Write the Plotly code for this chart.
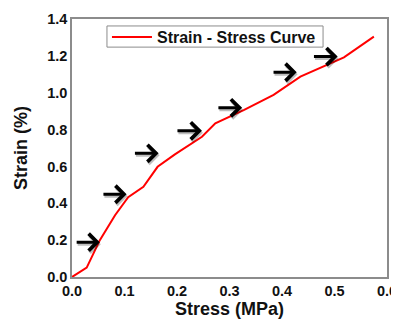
import plotly.graph_objects as go

stress = [0, 0.028, 0.053, 0.082, 0.107, 0.136, 0.163, 0.196, 0.2475, 0.273, 0.327, 0.384, 0.435, 0.518, 0.575]
strain = [0, 0.051, 0.20, 0.335, 0.433, 0.489, 0.598, 0.665, 0.761, 0.834, 0.906, 0.988, 1.087, 1.192, 1.304]

arrow_tail_x = [0.006, 0.057, 0.117, 0.198, 0.276, 0.381, 0.458]
arrow_head_x = [0.053, 0.104, 0.165, 0.2475, 0.324, 0.428, 0.506]
arrow_y = [0.189, 0.449, 0.671, 0.793, 0.918, 1.111, 1.196]

x_ticks = [0.0, 0.1, 0.2, 0.3, 0.4, 0.5, 0.6]
y_ticks = [0.0, 0.2, 0.4, 0.6, 0.8, 1.0, 1.2, 1.4]

FONT = "Liberation Sans, Arial"

fig = go.Figure()
fig.add_trace(go.Scatter(x=stress, y=strain, mode="lines", name="Strain - Stress Curve",
                         line=dict(color="#ff0000", width=2)))

annotations = []
for tx, hx, y in zip(arrow_tail_x, arrow_head_x, arrow_y):
    annotations.append(dict(x=hx, y=y, ax=tx, ay=y, xref="x", yref="y", axref="x", ayref="y",
                            showarrow=True, arrowhead=4, arrowsize=1.1, arrowwidth=3,
                            arrowcolor="rgba(0,0,0,0.25)", text="", xshift=1, yshift=-2))
    annotations.append(dict(x=hx, y=y, ax=tx, ay=y, xref="x", yref="y", axref="x", ayref="y",
                            showarrow=True, arrowhead=4, arrowsize=1.1, arrowwidth=3,
                            arrowcolor="#000000", text=""))

axis_common = dict(showgrid=False, zeroline=False, showline=True, linecolor="#8c8c8c",
                   linewidth=1.5, mirror=True, ticks="", automargin=False,
                   tickfont=dict(family=FONT, size=14.5, color="#111111", weight="bold"))

# page body adds an 8px offset; compensate so the plot area sits where the reference's does
fig.update_layout(
    width=391, height=312,
    margin=dict(l=64, r=12, t=11, b=43),
    paper_bgcolor="white", plot_bgcolor="white",
    font=dict(family=FONT, color="#111111"),
    showlegend=True,
    legend=dict(x=0.111, y=0.996, xanchor="left", yanchor="top",
                borderwidth=0, bgcolor="rgba(0,0,0,0)",
                font=dict(family=FONT, size=16, color="#111111", weight="bold"),
                itemwidth=40, tracegroupgap=0),
    shapes=[dict(type="rect", xref="paper", yref="paper", x0=0.111, x1=0.797, y0=0.891, y1=0.973,
                 line=dict(color="#8c8c8c", width=1), fillcolor="white", layer="below")],
    annotations=annotations,
)
fig.update_xaxes(range=[0, 0.6], tickvals=x_ticks, tickformat=".1f",
                 title=dict(text="Stress (MPa)", font=dict(size=18, weight="bold"), standoff=3),
                 **axis_common)
fig.update_yaxes(range=[0, 1.4], tickvals=y_ticks, tickformat=".1f",
                 title=dict(text="Strain (%)", font=dict(size=18, weight="bold"), standoff=15),
                 **axis_common)

fig.write_html("out.html")
